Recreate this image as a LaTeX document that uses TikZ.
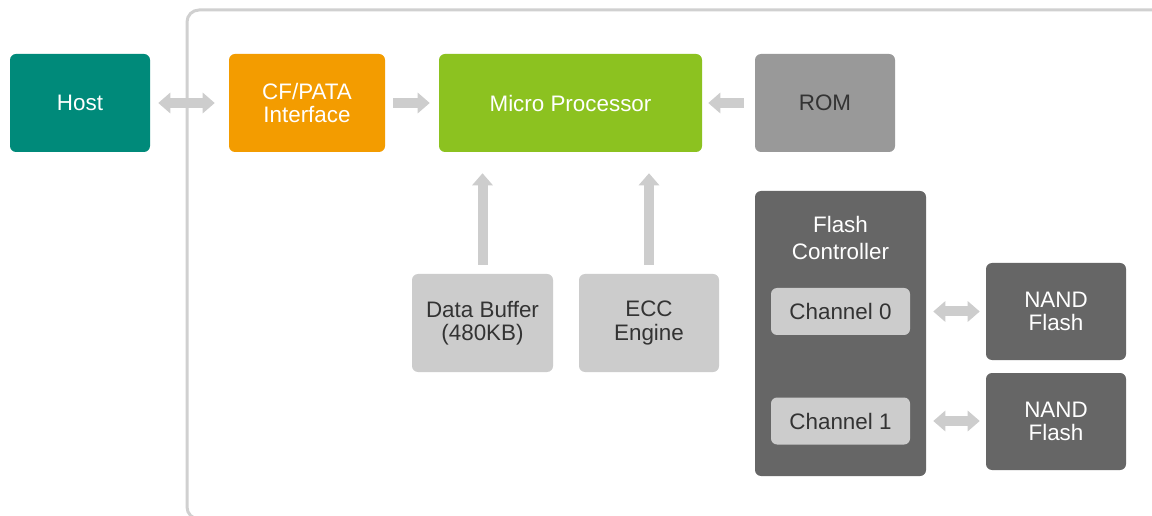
\documentclass[tikz,border=0pt]{standalone}
\usepackage{fontspec}
\setmainfont{Liberation Sans}
\usetikzlibrary{arrows.meta}
\definecolor{hostc}{HTML}{008A7A}
\definecolor{cfc}{HTML}{F39C00}
\definecolor{mpc}{HTML}{8CC220}
\definecolor{romc}{HTML}{999999}
\definecolor{lightc}{HTML}{CCCCCC}
\definecolor{darkc}{HTML}{666666}
\definecolor{txtc}{HTML}{333333}
\definecolor{framec}{HTML}{D0D0D0}
\definecolor{arrc}{HTML}{CDCDCD}
\tikzset{
  blk/.style={rounded corners=4.5pt, inner sep=0pt, align=center, font=\fontsize{16.8}{17.5}\selectfont},
  wblk/.style={blk, text=white},
  dblk/.style={blk, text=txtc},
  fat/.style={draw=arrc, line width=7.5pt, -{Triangle[width=15pt,length=9pt]}},
  fatboth/.style={draw=arrc, line width=7.5pt, {Triangle[width=15pt,length=9pt]}-{Triangle[width=15pt,length=9pt]}},
}
\begin{document}
\begin{tikzpicture}[x=0.75pt,y=-0.75pt]
\useasboundingbox (0,0) rectangle (1152,516);
\fill[white] (0,0) rectangle (1152,516);
\draw[framec, line width=2.25pt, rounded corners=9pt] (187,10) rectangle (1170,519);

\node[wblk, fill=hostc, minimum width=105pt, minimum height=73.5pt] (host) at (80,103) {Host};
\node[wblk, fill=cfc, minimum width=117pt, minimum height=73.5pt] (cf) at (307,103) {CF/PATA\\Interface};
\node[wblk, fill=mpc, minimum width=197.25pt, minimum height=73.5pt] (mp) at (570.5,103) {Micro Processor};
\node[dblk, fill=romc, minimum width=105pt, minimum height=73.5pt] (rom) at (825,103) {ROM};
\node[dblk, fill=lightc, minimum width=105.75pt, minimum height=73.5pt] (db) at (482.5,323) {Data Buffer\\(480KB)};
\node[dblk, fill=lightc, minimum width=105pt, minimum height=73.5pt] (ecc) at (649,323) {ECC\\Engine};
\node[blk, fill=darkc, minimum width=128.25pt, minimum height=213.75pt] (fc) at (840.5,333.5) {};
\node[wblk, font=\fontsize{16.8}{20.25}\selectfont] (fclabel) at (840.5,238) {Flash\\Controller};
\node[dblk, fill=lightc, minimum width=104.25pt, minimum height=35.25pt] (ch0) at (840.5,311.5) {Channel 0};
\node[dblk, fill=lightc, minimum width=104.25pt, minimum height=35.25pt] (ch1) at (840.5,421) {Channel 1};
\node[wblk, fill=darkc, minimum width=105pt, minimum height=72.75pt] (nand0) at (1056,311.5) {NAND\\Flash};
\node[wblk, fill=darkc, minimum width=105pt, minimum height=72.75pt] (nand1) at (1056,421.5) {NAND\\Flash};

\draw[fatboth, shorten <=6pt, shorten >=10.5pt] (host.east) -- (cf.west);
\draw[fat, shorten <=6pt, shorten >=6.75pt] (cf.east) -- (mp.west);
\draw[fat, shorten <=8.25pt, shorten >=4.5pt] (rom.west) -- (mp.east);
\draw[fat, shorten <=6.75pt, shorten >=15.75pt] (db.north) -- (db.north |- mp.south);
\draw[fat, shorten <=6.75pt, shorten >=15.75pt] (ecc.north) -- (ecc.north |- mp.south);
\draw[fatboth, shorten <=5.25pt, shorten >=4.5pt] (fc.east |- ch0.east) -- (nand0.west |- ch0.east);
\draw[fatboth, shorten <=5.25pt, shorten >=4.5pt] (fc.east |- ch1.east) -- (nand1.west |- ch1.east);
\end{tikzpicture}
\end{document}
